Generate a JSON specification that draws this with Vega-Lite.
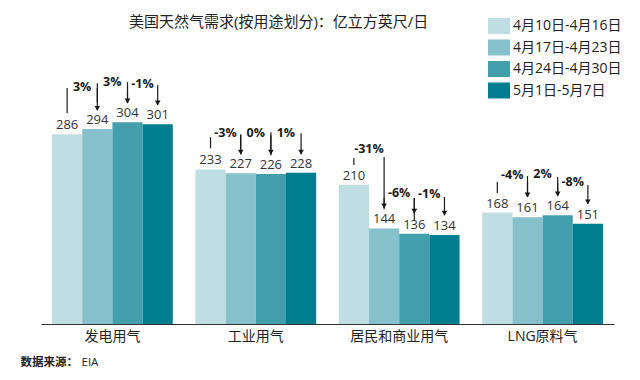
{
  "$schema": "https://vega.github.io/schema/vega-lite/v6.json",
  "autosize": {"type": "none"},
  "width": 573,
  "height": 284,
  "padding": {"left": 41, "top": 40, "right": 26, "bottom": 56},
  "background": "white",
  "config": {
    "view": {"stroke": null},
    "font": "Open Sans, Noto Sans CJK SC",
    "title": {"anchor": "start", "frame": "group", "dx": 88, "offset": 0, "dy": 16, "baseline": "middle", "fontSize": 15, "fontWeight": "normal", "color": "#222222", "font": "Open Sans, Noto Sans CJK SC"}
  },
  "title": "美国天然气需求(按用途划分)：亿立方英尺/日",
  "datasets": {
    "bars": [
      {"cat": "发电用气", "period": "4月10日-4月16日", "value": 286},
      {"cat": "发电用气", "period": "4月17日-4月23日", "value": 294},
      {"cat": "发电用气", "period": "4月24日-4月30日", "value": 304},
      {"cat": "发电用气", "period": "5月1日-5月7日", "value": 301},
      {"cat": "工业用气", "period": "4月10日-4月16日", "value": 233},
      {"cat": "工业用气", "period": "4月17日-4月23日", "value": 227},
      {"cat": "工业用气", "period": "4月24日-4月30日", "value": 226},
      {"cat": "工业用气", "period": "5月1日-5月7日", "value": 228},
      {"cat": "居民和商业用气", "period": "4月10日-4月16日", "value": 210},
      {"cat": "居民和商业用气", "period": "4月17日-4月23日", "value": 144},
      {"cat": "居民和商业用气", "period": "4月24日-4月30日", "value": 136},
      {"cat": "居民和商业用气", "period": "5月1日-5月7日", "value": 134},
      {"cat": "LNG原料气", "period": "4月10日-4月16日", "value": 168},
      {"cat": "LNG原料气", "period": "4月17日-4月23日", "value": 161},
      {"cat": "LNG原料气", "period": "4月24日-4月30日", "value": 164},
      {"cat": "LNG原料气", "period": "5月1日-5月7日", "value": 151}
    ],
    "ann": [
      {"cat": "发电用气", "from": "4月10日-4月16日", "to": "4月17日-4月23日", "pct": "3%", "lineBot": 318, "lineTop": 355.5, "arrowTop": 355.5, "arrowTip": 322, "textY": 357},
      {"cat": "发电用气", "from": "4月17日-4月23日", "to": "4月24日-4月30日", "pct": "3%", "lineBot": 334, "lineTop": 363, "arrowTop": 364.5, "arrowTip": 333, "textY": 364.5},
      {"cat": "发电用气", "from": "4月24日-4月30日", "to": "5月1日-5月7日", "pct": "-1%", "lineBot": 333, "lineTop": 349.5, "arrowTop": 360, "arrowTip": 330, "textY": 361.5},
      {"cat": "工业用气", "from": "4月10日-4月16日", "to": "4月17日-4月23日", "pct": "-3%", "lineBot": 265, "lineTop": 281.5, "arrowTop": 284.5, "arrowTip": 256, "textY": 287.5},
      {"cat": "工业用气", "from": "4月17日-4月23日", "to": "4月24日-4月30日", "pct": "0%", "lineBot": 256, "lineTop": 286, "arrowTop": 284.5, "arrowTip": 256, "textY": 287.5},
      {"cat": "工业用气", "from": "4月24日-4月30日", "to": "5月1日-5月7日", "pct": "1%", "lineBot": 254.5, "lineTop": 289, "arrowTop": 287.5, "arrowTip": 256, "textY": 287.5},
      {"cat": "居民和商业用气", "from": "4月10日-4月16日", "to": "4月17日-4月23日", "pct": "-31%", "lineBot": 239.5, "lineTop": 250, "arrowTop": 251.5, "arrowTip": 175, "textY": 263.5},
      {"cat": "居民和商业用气", "from": "4月17日-4月23日", "to": "4月24日-4月30日", "pct": "-6%", "lineBot": 173, "lineTop": 190, "arrowTop": 190, "arrowTip": 167, "textY": 197.5},
      {"cat": "居民和商业用气", "from": "4月24日-4月30日", "to": "5月1日-5月7日", "pct": "-1%", "lineBot": 156.5, "lineTop": 190, "arrowTop": 191.5, "arrowTip": 164, "textY": 196},
      {"cat": "LNG原料气", "from": "4月10日-4月16日", "to": "4月17日-4月23日", "pct": "-4%", "lineBot": 197.5, "lineTop": 214, "arrowTop": 214, "arrowTip": 191.5, "textY": 224.5},
      {"cat": "LNG原料气", "from": "4月17日-4月23日", "to": "4月24日-4月30日", "pct": "2%", "lineBot": 191.5, "lineTop": 223, "arrowTop": 221.5, "arrowTip": 193, "textY": 226},
      {"cat": "LNG原料气", "from": "4月24日-4月30日", "to": "5月1日-5月7日", "pct": "-8%", "lineBot": 194.5, "lineTop": 212.5, "arrowTop": 209.5, "arrowTip": 181, "textY": 214}
    ]
  },
  "encoding": {
    "x": {
      "field": "cat", "type": "nominal", "sort": ["发电用气", "工业用气", "居民和商业用气", "LNG原料气"],
      "scale": {"paddingInner": 0.158, "paddingOuter": 0.077},
      "axis": {"title": "EIA", "titleX": 40, "titleY": 38, "titleAlign": "left", "titleAnchor": null, "titleBaseline": "middle", "titleFontSize": 11.5, "titleFontWeight": "normal", "titleColor": "#222222", "titleFont": "Open Sans, Noto Sans CJK SC",
        "domainColor": "#333333", "domainWidth": 1.2, "ticks": false, "labelPadding": 5, "labelFontSize": 14, "labelColor": "#222222", "labelAngle": 0, "labelFont": "Open Sans, Noto Sans CJK SC"}
    }
  },
  "layer": [
    {
      "data": {"name": "bars"},
      "mark": {"type": "bar"},
      "encoding": {
        "xOffset": {"field": "period", "type": "nominal", "scale": {"domain": ["4月10日-4月16日", "4月17日-4月23日", "4月24日-4月30日", "5月1日-5月7日"], "paddingInner": 0, "paddingOuter": 0}},
        "y": {"field": "value", "type": "quantitative", "scale": {"domain": [0, 428], "nice": false, "zero": true},
          "axis": {"domain": false, "ticks": false, "labels": false, "grid": false, "title": "数据来源：", "titleAngle": 0, "titleX": -21, "titleY": 322, "titleAlign": "left", "titleBaseline": "middle", "titleFontSize": 11.5, "titleFontWeight": "bold", "titleColor": "#222222", "titleFont": "Open Sans, Noto Sans CJK SC"}},
        "color": {"field": "period", "type": "nominal",
          "scale": {"domain": ["4月10日-4月16日", "4月17日-4月23日", "4月24日-4月30日", "5月1日-5月7日"], "range": ["#bfdee3", "#86c0ca", "#449fad", "#007d8e"]},
          "legend": {"title": null, "orient": "none", "legendX": 450, "legendY": -22, "padding": 0, "symbolType": "M-1.375,-1H1.375V1H-1.375Z", "symbolSize": 256, "symbolStrokeWidth": 0, "symbolOpacity": 1, "labelFontSize": 14, "labelColor": "#222222", "labelOffset": 6, "rowPadding": 5.5, "labelFont": "Open Sans, Noto Sans CJK SC"}}
      }
    },
    {
      "data": {"name": "bars"},
      "mark": {"type": "text", "baseline": "alphabetic", "dy": -5, "fontSize": 13, "color": "#333333"},
      "encoding": {
        "xOffset": {"field": "period", "type": "nominal", "scale": {"domain": ["4月10日-4月16日", "4月17日-4月23日", "4月24日-4月30日", "5月1日-5月7日"]}},
        "y": {"field": "value", "type": "quantitative"},
        "text": {"field": "value", "type": "quantitative"}
      }
    },
    {
      "data": {"name": "ann"},
      "mark": {"type": "rule", "color": "#1a1a1a", "strokeWidth": 1.2, "xOffset": 2},
      "encoding": {
        "xOffset": {"field": "from", "type": "nominal", "scale": {"domain": ["4月10日-4月16日", "4月17日-4月23日", "4月24日-4月30日", "5月1日-5月7日"]}},
        "y": {"field": "lineBot", "type": "quantitative"},
        "y2": {"field": "lineTop"}
      }
    },
    {
      "data": {"name": "ann"},
      "mark": {"type": "rule", "color": "#1a1a1a", "strokeWidth": 1.2, "xOffset": -2},
      "encoding": {
        "xOffset": {"field": "to", "type": "nominal", "scale": {"domain": ["4月10日-4月16日", "4月17日-4月23日", "4月24日-4月30日", "5月1日-5月7日"]}},
        "y": {"field": "arrowTop", "type": "quantitative"},
        "y2": {"field": "arrowTip"}
      }
    },
    {
      "data": {"name": "ann"},
      "mark": {"type": "point", "shape": "triangle-down", "size": 32, "filled": true, "opacity": 1, "color": "#1a1a1a", "xOffset": -2, "yOffset": -2},
      "encoding": {
        "xOffset": {"field": "to", "type": "nominal", "scale": {"domain": ["4月10日-4月16日", "4月17日-4月23日", "4月24日-4月30日", "5月1日-5月7日"]}},
        "y": {"field": "arrowTip", "type": "quantitative"}
      }
    },
    {
      "data": {"name": "ann"},
      "mark": {"type": "text", "baseline": "middle", "align": "center", "dx": 15, "fontSize": 12.5, "fontWeight": "bold", "color": "#1a1a1a"},
      "encoding": {
        "xOffset": {"field": "from", "type": "nominal", "scale": {"domain": ["4月10日-4月16日", "4月17日-4月23日", "4月24日-4月30日", "5月1日-5月7日"]}},
        "y": {"field": "textY", "type": "quantitative"},
        "text": {"field": "pct", "type": "nominal"}
      }
    }
  ]
}
